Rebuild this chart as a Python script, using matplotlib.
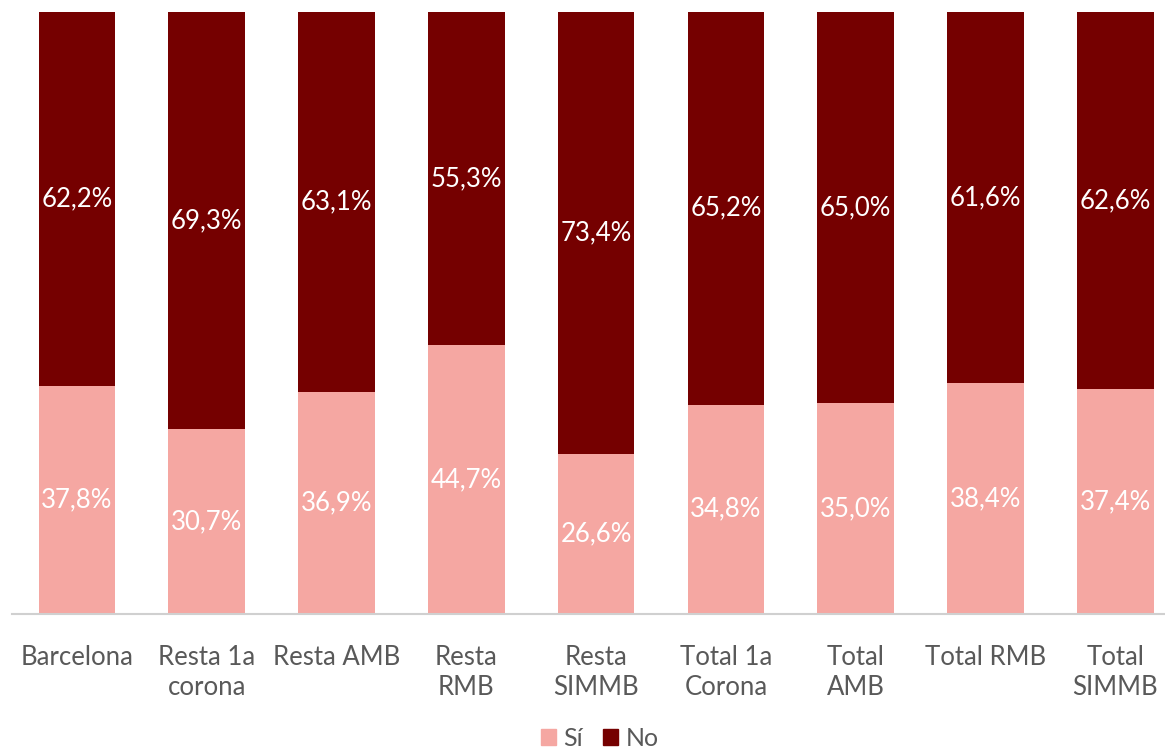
import matplotlib
matplotlib.use("Agg")
import matplotlib.pyplot as plt
import numpy as np
from matplotlib.patches import Patch

categories = ["Barcelona", "Resta 1a\ncorona", "Resta AMB", "Resta\nRMB", "Resta\nSIMMB",
              "Total 1a\nCorona", "Total\nAMB", "Total RMB", "Total\nSIMMB"]
si_values = [37.8, 30.7, 36.9, 44.7, 26.6, 34.8, 35.0, 38.4, 37.4]
no_values = [62.2, 69.3, 63.1, 55.3, 73.4, 65.2, 65.0, 61.6, 62.6]

SI_COLOR = "#F5A7A2"
NO_COLOR = "#750000"
TEXT_COLOR = "#595959"

plt.rcParams["font.family"] = ["Lato", "DejaVu Sans"]

W, H = 1165, 754
fig = plt.figure(figsize=(W / 100, H / 100), dpi=100)
ax = fig.add_axes([12 / W, 1 - 614 / H, 1 - 12 / W, (614 - 12) / H])

x = np.arange(len(categories))
si = np.array(si_values)
no = np.array(no_values)
ax.bar(x, si, width=0.59, color=SI_COLOR, label="Sí")
ax.bar(x, no, width=0.59, bottom=si, color=NO_COLOR, label="No")

for xi, s, n in zip(x, si, no):
    ax.text(xi, s / 2, f"{s:.1f}%".replace(".", ","), ha="center", va="center",
            color="white", fontsize=18.5)
    ax.text(xi, s + n / 2, f"{n:.1f}%".replace(".", ","), ha="center", va="center",
            color="white", fontsize=18.5)

ax.set_xlim(-0.5, -0.5 + (W - 12) / 129.8)
ax.set_ylim(0, 100)
ax.set_xticks(x)
ax.set_xticklabels(categories, fontsize=18.5, color=TEXT_COLOR, linespacing=1.25)
ax.tick_params(axis="x", length=0, pad=22)
ax.set_yticks([])
for side in ["top", "right", "left"]:
    ax.spines[side].set_visible(False)
ax.spines["bottom"].set_color("#D0D0D0")
ax.spines["bottom"].set_linewidth(1.5)

handles = [Patch(color=SI_COLOR, label="Sí"), Patch(color=NO_COLOR, label="No")]
fig.legend(handles=handles, loc="center", bbox_to_anchor=(600 / W, 1 - 738 / H), ncol=2,
           frameon=False, fontsize=18, handlelength=0.6, handleheight=0.6,
           handletextpad=0.3, columnspacing=0.8, labelcolor=TEXT_COLOR,
           borderpad=0.1)

fig.savefig("out.png", dpi=100)
